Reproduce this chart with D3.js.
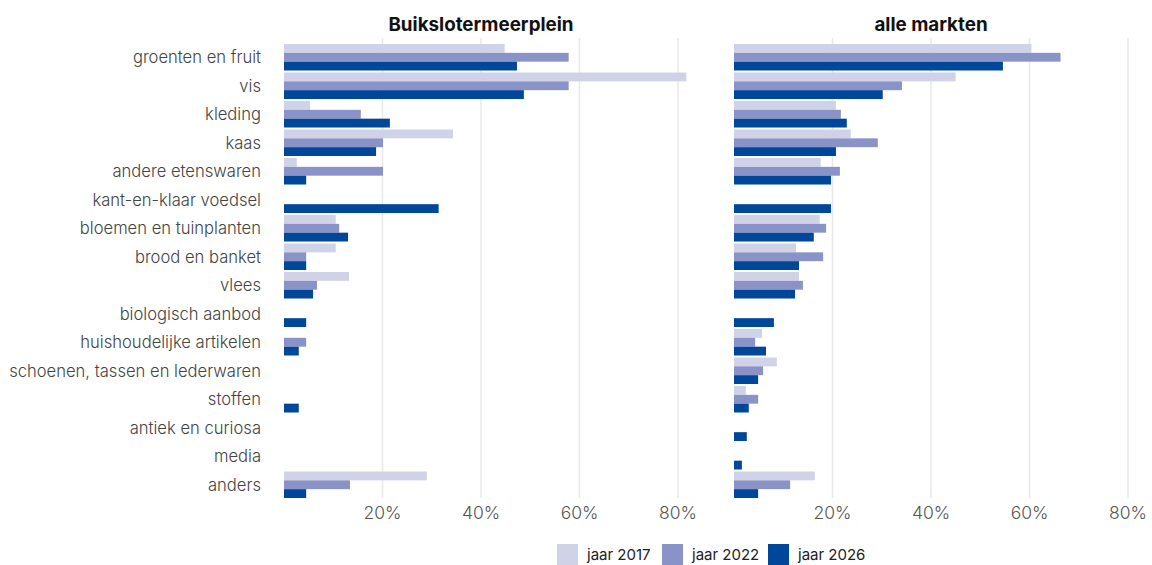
<!DOCTYPE html>
<meta charset="utf-8">
<script src="https://d3js.org/d3.v7.min.js"></script>
<body style="margin:0;background:#fff">
<svg width="1152" height="565"></svg>
<script>
    var categories = ['groenten en fruit', 'vis', 'kleding', 'kaas', 'andere etenswaren', 'kant-en-klaar voedsel',
        'bloemen en tuinplanten', 'brood en banket', 'vlees', 'biologisch aanbod', 'huishoudelijke artikelen',
        'schoenen, tassen en lederwaren', 'stoffen', 'antiek en curiosa', 'media', 'anders'];
    var years = ['jaar 2017', 'jaar 2022', 'jaar 2026'];
    var colors = ['#d0d3e8', '#8a93c7', '#004699'];
    var ticks = [20, 40, 60, 80];

    // percentages per category, null = geen waarde
    var buik2017 = [44.8, 81.7, 5.3, 34.3, 2.6, null, 10.5, 10.5, 13.2, null, null, null, null, null, null, 29.0];
    var buik2022 = [57.8, 57.8, 15.6, 20.1, 20.1, null, 11.2, 4.5, 6.7, null, 4.5, null, null, null, null, 13.4];
    var buik2026 = [47.3, 48.7, 21.5, 18.7, 4.5, 31.4, 13.0, 4.5, 5.9, 4.5, 3.0, null, 3.0, null, null, 4.5];

    var alle2017 = [60.4, 45.0, 20.7, 23.7, 17.6, null, 17.4, 12.6, 13.2, null, 5.7, 8.7, 2.4, null, null, 16.4];
    var alle2022 = [66.3, 34.1, 21.7, 29.2, 21.5, null, 18.7, 18.1, 14.0, null, 4.3, 5.9, 4.9, null, null, 11.4];
    var alle2026 = [54.6, 30.2, 22.9, 20.7, 19.7, 19.7, 16.2, 13.2, 12.4, 8.1, 6.5, 4.9, 3.0, 2.6, 1.6, 4.9];

    var panels = [
        {title: 'Buikslotermeerplein', x0: 284, series: [buik2017, buik2022, buik2026]},
        {title: 'alle markten', x0: 734, series: [alle2017, alle2022, alle2026]}
    ];

    var svg = d3.select('svg');
    var font = 'Inter, "Noto Sans", sans-serif';
    var plotTop = 44, plotBottom = 498, plotWidth = 394;

    var y = d3.scaleBand().domain(categories).range([plotTop, plotBottom]).paddingInner(0.07).paddingOuter(0);
    var ySub = d3.scaleBand().domain(years).range([0, y.bandwidth()]);

    // category labels
    svg.append('g').selectAll('text').data(categories).enter().append('text')
        .attr('x', 261)
        .attr('y', function(d){ return y(d) + y.bandwidth() / 2; })
        .attr('dy', '0.35em')
        .attr('text-anchor', 'end')
        .style('font-family', font).style('font-size', '16.6px').style('font-weight', 300).style('fill', '#444')
        .text(function(d){ return d; });

    panels.forEach(function(p){
        var x = d3.scaleLinear().domain([0, 80]).range([p.x0, p.x0 + plotWidth]);
        var g = svg.append('g');

        g.selectAll('line.grid').data(ticks).enter().append('line')
            .attr('class', 'grid')
            .attr('x1', x).attr('x2', x)
            .attr('y1', 38).attr('y2', plotBottom)
            .attr('stroke', '#e8e8e8').attr('stroke-width', 1.5);

        g.selectAll('text.tick').data(ticks).enter().append('text')
            .attr('class', 'tick')
            .attr('x', x).attr('y', 519)
            .attr('text-anchor', 'middle')
            .style('font-family', font).style('font-size', '17.5px').style('font-weight', 300).style('fill', '#555')
            .text(function(d){ return d + '%'; });

        g.append('text')
            .attr('x', (x(0) + x(80)) / 2).attr('y', 31)
            .attr('text-anchor', 'middle')
            .style('font-family', font).style('font-size', '18.8px').style('font-weight', 'bold').style('fill', '#111')
            .text(p.title);

        p.series.forEach(function(vals, s){
            g.selectAll('rect.s' + s).data(vals.map(function(v, i){ return {cat: categories[i], v: v}; })
                    .filter(function(d){ return d.v !== null; }))
                .enter().append('rect')
                .attr('class', 's' + s)
                .attr('x', x(0))
                .attr('y', function(d){ return y(d.cat) + ySub(years[s]); })
                .attr('width', function(d){ return x(d.v) - x(0); })
                .attr('height', ySub.bandwidth())
                .attr('fill', colors[s]);
        });
    });

    // legend
    var legendX = [557, 662, 768];
    var lg = svg.append('g').selectAll('g').data(years).enter().append('g')
        .attr('transform', function(d, i){ return 'translate(' + legendX[i] + ',544)'; });
    lg.append('rect').attr('width', 21).attr('height', 21).attr('fill', function(d, i){ return colors[i]; });
    lg.append('text').attr('x', 30).attr('y', 11).attr('dy', '0.35em')
        .style('font-family', font).style('font-size', '15px').style('fill', '#222')
        .text(function(d){ return d; });
</script>
</body>
